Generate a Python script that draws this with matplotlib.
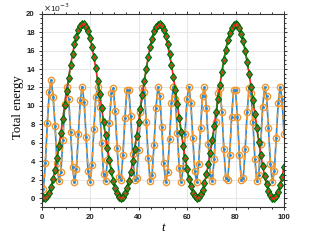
import numpy as np
import matplotlib
matplotlib.use('Agg')
import matplotlib.pyplot as plt
from matplotlib.ticker import MultipleLocator

# sample times (step 0.8)
t = np.linspace(0, 100, 126)

# total energy, units of 1e-3
fast = [0.0, 1.0, 3.8, 8.1, 11.5, 12.8, 11.0, 7.8, 3.8, 1.8, 2.8, 6.3, 10.2, 12.1, 10.8, 7.2,
        3.4, 1.7, 3.2, 6.9, 10.6, 12.1, 10.4, 6.6, 2.9, 1.7, 3.6, 7.5, 11.0, 12.0, 9.9, 6.0,
        2.6, 1.8, 4.1, 8.1, 11.4, 11.9, 9.4, 5.4, 2.3, 2.0, 4.7, 8.7, 11.7, 11.7, 8.9, 4.8,
        2.0, 2.2, 5.2, 9.3, 11.9, 11.5, 8.3, 4.3, 1.8, 2.5, 5.8, 9.8, 12.0, 11.1, 7.7, 3.8,
        1.7, 2.8, 6.4, 10.3, 12.1, 10.8, 7.1, 3.3, 1.7, 3.3, 7.0, 10.7, 12.1, 10.3, 6.5, 2.9,
        1.7, 3.7, 7.6, 11.1, 12.0, 9.8, 5.9, 2.5, 1.8, 4.2, 8.2, 11.4, 11.9, 9.3, 5.3, 2.2,
        2.0, 4.7, 8.8, 11.7, 11.7, 8.8, 4.7, 2.0, 2.2, 5.3, 9.3, 11.9, 11.4, 8.2, 4.2, 1.8,
        2.5, 5.9, 9.9, 12.0, 11.1, 7.6, 3.7, 1.7, 2.9, 6.5, 10.3, 12.1, 10.7, 7.0]

slow = [0.0, 0.1, 0.0, 0.2, 0.6, 1.2, 2.1, 3.1, 4.3, 5.7, 7.1, 8.6, 10.1, 11.6, 13.0, 14.4,
        15.6, 16.7, 17.5, 18.2, 18.7, 18.9, 18.9, 18.6, 18.1, 17.4, 16.4, 15.3, 14.1, 12.7, 11.3, 9.8,
        8.2, 6.8, 5.4, 4.1, 2.9, 1.9, 1.1, 0.5, 0.1, 0.0, 0.1, 0.5, 1.1, 1.9, 2.8, 4.0,
        5.3, 6.7, 8.2, 9.7, 11.2, 12.7, 14.0, 15.3, 16.4, 17.3, 18.1, 18.6, 18.8, 18.9, 18.7, 18.2,
        17.6, 16.7, 15.6, 14.4, 13.1, 11.7, 10.2, 8.7, 7.2, 5.7, 4.4, 3.2, 2.1, 1.3, 0.6, 0.2,
        0.0, 0.1, 0.4, 0.9, 1.6, 2.6, 3.7, 4.9, 6.3, 7.8, 9.3, 10.8, 12.3, 13.7, 15.0, 16.1,
        17.1, 17.9, 18.5, 18.8, 18.9, 18.8, 18.4, 17.8, 17.0, 16.0, 14.8, 13.5, 12.1, 10.6, 9.1, 7.6,
        6.1, 4.7, 3.5, 2.4, 1.5, 0.8, 0.3, 0.0, 0.0, 0.2, 0.7, 1.4, 2.3, 3.4]

blue = '#2b8cd6'
orange = '#f0962d'
red = '#ff2020'

fig = plt.figure(figsize=(3.16, 2.46), dpi=100)
ax = fig.add_axes([41.5/316, 1-207.3/246, (284-41.5)/316, (207.3-13.7)/246])

ax.plot(t, fast, '-', color=blue, lw=1.2)
ax.plot(t, fast, '--o', color=orange, lw=1.2, ms=4.5, mfc='none', mew=1.0, dashes=(3, 3))
ax.plot(t, fast, '.', color=blue, ms=2.2)
ax.plot(t, slow, '-', color=red, lw=1.2)
ax.plot(t, slow, '--d', color='#138a13', lw=1.2, ms=4.4, mfc='#22a022', mec='#005a00',
        mew=0.7, dashes=(3, 3))
ax.plot(t, slow, '.', color=red, ms=1.6)

ax.set_xlim(0, 100)
ax.set_ylim(-1, 20)
ax.xaxis.set_major_locator(MultipleLocator(20))
ax.xaxis.set_minor_locator(MultipleLocator(5))
ax.yaxis.set_major_locator(MultipleLocator(2))
ax.yaxis.set_minor_locator(MultipleLocator(0.5))
ax.tick_params(which='both', direction='out', top=True, right=True, width=0.7, color='#333333')
ax.tick_params(which='major', length=2.4, pad=2.5)
ax.tick_params(which='minor', length=1.5)
for lab in ax.get_xticklabels() + ax.get_yticklabels():
    lab.set_family('Liberation Sans')
    lab.set_weight('bold')
    lab.set_fontsize(5.6)
    lab.set_color('#222222')
for s in ax.spines.values():
    s.set_linewidth(0.8)
    s.set_color('#333333')
ax.grid(True, which='major', color='#e3e3e3', lw=0.6)
ax.set_axisbelow(True)

fig.text(43/316, 1-11.5/246, r'$\times$10$^{-3}$', family='Liberation Sans', fontsize=6,
         ha='left', va='baseline', color='#222222')
fig.text(18/316, 1-107.5/246, 'Total energy', family='Liberation Serif', fontsize=9.2,
         rotation=90, ha='center', va='center')
fig.text(163/316, 1-228/246, 't', family='Liberation Serif', style='italic', fontsize=9.2,
         ha='center', va='center')

fig.savefig('out.png', dpi=100)
